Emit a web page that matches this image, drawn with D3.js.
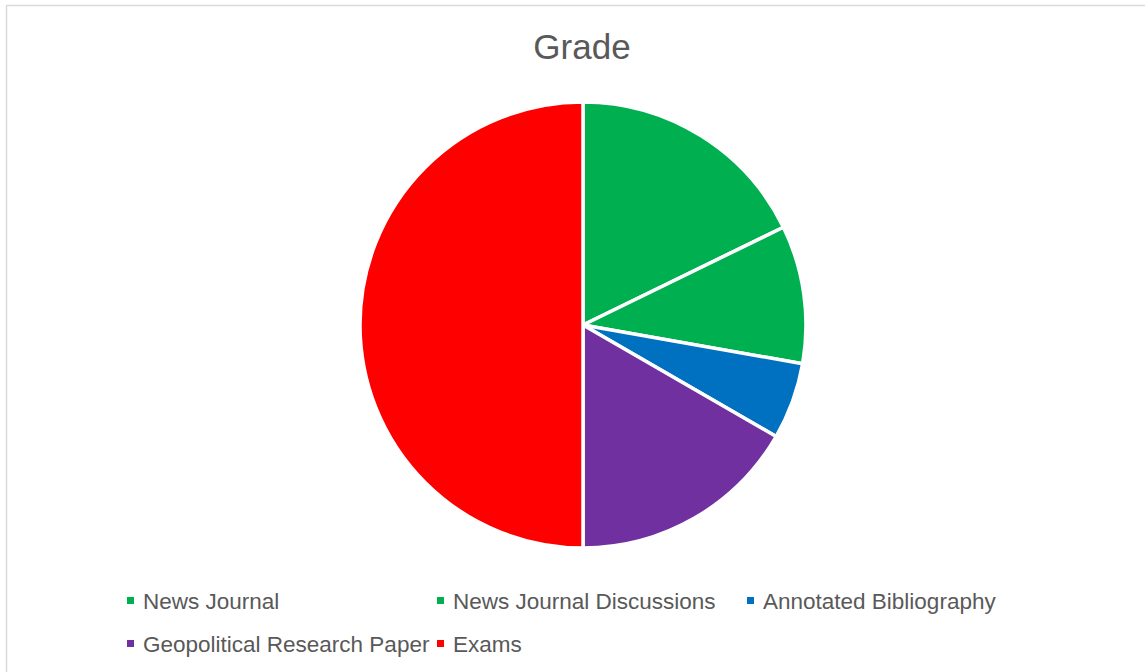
<!DOCTYPE html>
<html>
<head>
<meta charset="utf-8">
<script src="https://cdn.jsdelivr.net/npm/d3@7"></script>
<style>
  body { margin: 0; background: #fff; }
  svg { display: block; font-family: "Liberation Sans", Arial, sans-serif; }
</style>
</head>
<body>
<svg width="1145" height="672"></svg>
<script>
const categories = ["News Journal", "News Journal Discussions", "Annotated Bibliography", "Geopolitical Research Paper", "Exams"];
const grades = [160, 90, 50, 150, 450];
const colors = ["#00B050", "#00B050", "#0070C0", "#7030A0", "#FF0000"];

const svg = d3.select("svg");

// chart border (only top and left are visible in the frame)
svg.append("rect")
    .attr("x", 6.5).attr("y", 5.5)
    .attr("width", 1160).attr("height", 700)
    .attr("fill", "none")
    .attr("stroke", "#d9d9d9")
    .attr("stroke-width", 1.5);

svg.append("text")
    .attr("x", 582).attr("y", 59)
    .attr("text-anchor", "middle")
    .attr("font-size", 35)
    .attr("fill", "#595959")
    .text("Grade");

const cx = 583, cy = 325, r = 223;

const pie = d3.pie().sort(null).value(d => d);
const arc = d3.arc().innerRadius(0).outerRadius(r);

svg.append("g")
    .attr("transform", `translate(${cx},${cy})`)
    .selectAll("path")
    .data(pie(grades))
    .enter().append("path")
    .attr("d", arc)
    .attr("fill", (d, i) => colors[i])
    .attr("stroke", "#fff")
    .attr("stroke-width", 3.5)
    .attr("stroke-linejoin", "round");

// legend, three columns
const colX = d3.scaleLinear().domain([0, 1]).range([127, 437]);
const rowY = d3.scaleLinear().domain([0, 1]).range([601, 644]);

const item = svg.append("g")
    .selectAll("g")
    .data(categories)
    .enter().append("g")
    .attr("transform", (d, i) => `translate(${colX(i % 3)},${rowY(Math.floor(i / 3))})`);

item.append("rect")
    .attr("x", 0).attr("y", -4)
    .attr("width", 7).attr("height", 7)
    .attr("fill", (d, i) => colors[i]);

item.append("text")
    .attr("x", 16).attr("y", 8)
    .attr("font-size", 22.5)
    .attr("fill", "#595959")
    .text(d => d);
</script>
</body>
</html>
